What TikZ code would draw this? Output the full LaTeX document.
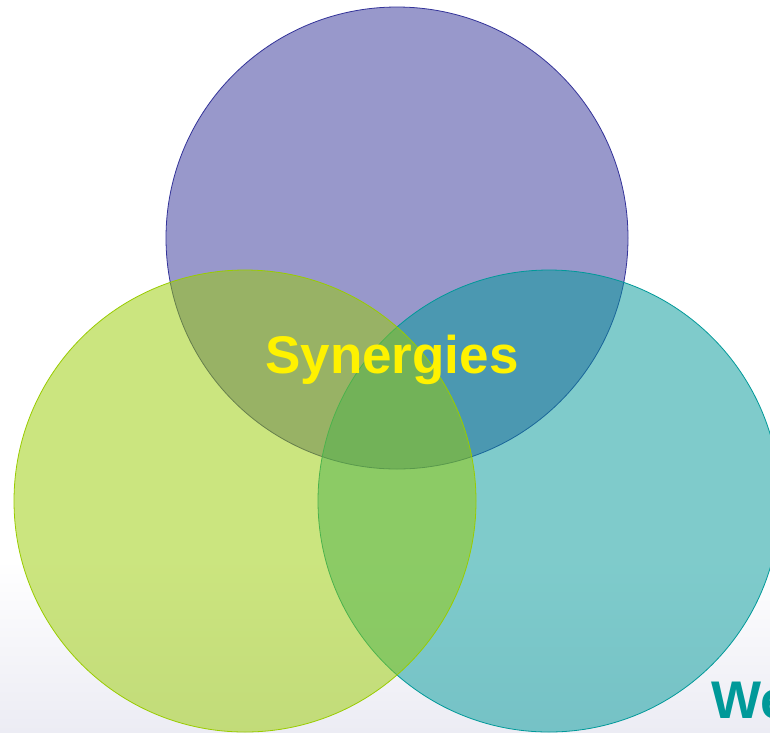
\documentclass[tikz,border=0pt]{standalone}
\usepackage{fontspec}
\setmainfont{Liberation Sans}
\usepackage{tikz}
\usetikzlibrary{calc}
\definecolor{ringblue}{RGB}{51,51,153}
\definecolor{ringlime}{RGB}{153,204,0}
\definecolor{ringteal}{RGB}{0,153,153}
\definecolor{floorgrey}{RGB}{236,236,244}
\newcommand{\vennring}[3]{ \fill[#3, fill opacity=0.5] ( #1 , #2 ) circle[radius=231pt]; \draw[#3, line width=0.8pt] ( #1 , #2 ) circle[radius=231pt];}
\tikzset{
  bigword/.style={font=\fontsize{53}{60}\selectfont\bfseries, inner sep=0pt}
}
\begin{document}
\begin{tikzpicture}[x=1pt,y=-1pt]
        \useasboundingbox (0,0) rectangle (770,732);
        % background
        \fill[white] (0,0) rectangle (770,732);
        \shade[top color=white, bottom color=floorgrey] (0,560) rectangle (770,732);
        % top
        \vennring{397}{238}{ringblue}
        % right
        \vennring{549}{501}{ringteal}
        % left
        \vennring{245}{501}{ringlime}

        % text
        \node[bigword, text=yellow, anchor=base] (syn) at ( 392 , 373 ){Synergies};
        \node[bigword, text=ringteal, anchor=base west] (we) at ( 711 , 718 ){We};
    \end{tikzpicture}
\end{document}
